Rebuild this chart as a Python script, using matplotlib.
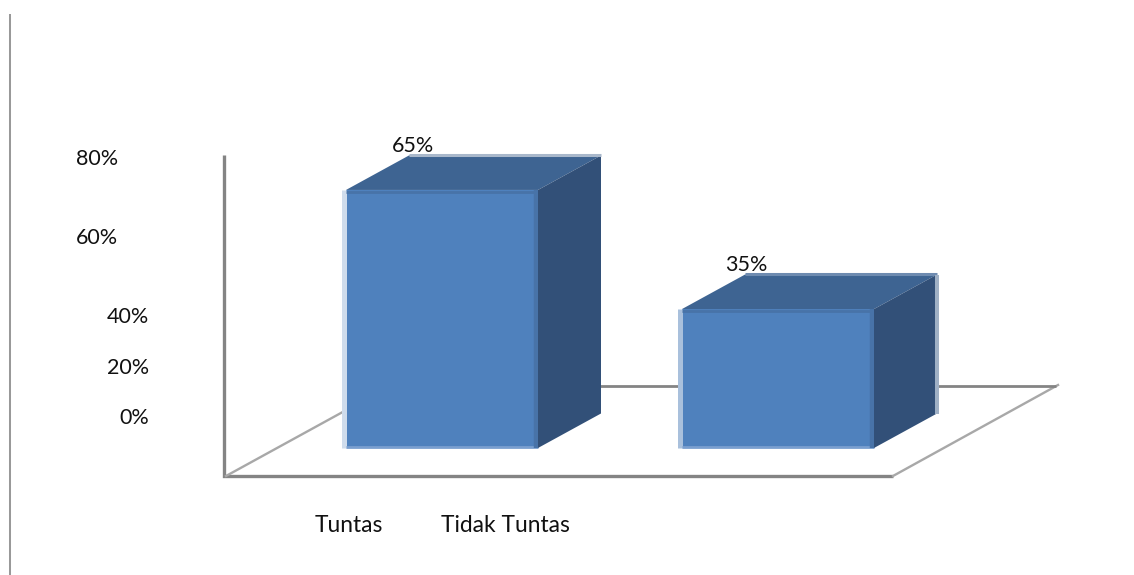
import matplotlib
matplotlib.use("Agg")
import matplotlib.pyplot as plt
from matplotlib.patches import Polygon

categories = ["Tuntas", "Tidak Tuntas"]
values = [65, 35]
value_labels = ["65%", "35%"]
tick_values = [80, 60, 40, 20, 0]
tick_labels = ["80%", "60%", "40%", "20%", "0%"]

plt.rcParams['font.family'] = ['Lato', 'DejaVu Sans']
W, H = 1134, 575
fig = plt.figure(figsize=(W / 100, H / 100), dpi=100)
ax = fig.add_axes([0, 0, 1, 1])

# data scale: x = category index, y = percent
X0, XS, Y0, YS = 442.0, 336.0, 448.0, 3.97
def dx(p): return (p - X0) / XS
def dy(p): return (Y0 - p) / YS
ax.set_xlim(dx(0), dx(W))
ax.set_ylim(dy(H), dy(0))
ax.axis("off")

HALF = 96 / XS
DX, DY = 63 / XS, 34.5 / YS
FRONT, TOP, SIDE = "#4F81BD", "#3E6492", "#325078"
GREY = "#848484"
TEXT = "#111111"
top_strip = ["#A9B8CB", "#6E8BB0"]
label_dx = [-29, -32]

# page rule
ax.plot([dx(10)] * 2, [dy(14), dy(575)], color="#999999", lw=1.45, solid_capstyle="butt", zorder=1)

# floor and wall
ax.plot([dx(224), dx(224), dx(893)], [dy(155), dy(476), dy(476)], color=GREY, lw=2.4,
        solid_joinstyle="miter", solid_capstyle="butt", zorder=1)
ax.plot([dx(226), dx(350)], [dy(476), dy(408)], color="#a8a8a8", lw=1.7, zorder=1)
ax.plot([dx(893), dx(1058)], [dy(476), dy(385)], color="#a8a8a8", lw=1.7, zorder=1)
ax.plot([dx(590), dx(1056)], [dy(385.5)] * 2, color=GREY, lw=2.0, solid_capstyle="butt", zorder=1)

for i, v in enumerate(values):
    l, r = i - HALF, i + HALF
    # front
    ax.add_patch(Polygon([(l, 0), (r, 0), (r, v), (l, v)], closed=True, fc=FRONT, ec="none", zorder=3))
    # top
    ax.add_patch(Polygon([(l, v), (r, v), (r + DX, v + DY), (l + DX, v + DY)], closed=True, fc=TOP, ec="none", zorder=4))
    # side
    ax.add_patch(Polygon([(r, 0), (r + DX, DY), (r + DX, v + DY), (r, v)], closed=True, fc=SIDE, ec="none", zorder=4))
    # soft edges
    ax.plot([l - 2.5 / XS] * 2, [0, v], color="#CFDCEC" if i == 0 else "#A9C0DC", lw=3.6, solid_capstyle="butt", zorder=3)
    ax.plot([l, r], [0.2, 0.2], color="#7A9FCF", lw=2.0, solid_capstyle="butt", zorder=3)
    ax.plot([r - 2.5 / XS] * 2, [0, v], color="#4873A8", lw=3.2, solid_capstyle="butt", zorder=3)
    ax.plot([l, r], [v - 0.4, v - 0.4], color="#4873A8", lw=2.0, solid_capstyle="butt", zorder=3)
    ax.plot([l + DX, r + DX], [v + DY + 0.1] * 2, color=top_strip[i], lw=2.2, solid_capstyle="butt", zorder=5)
    if i == 1:
        ax.plot([r + DX] * 2, [DY, v + DY], color="#9FB0C5", lw=2.9, solid_capstyle="butt", zorder=5)
    ax.text(i + label_dx[i] / XS, v + DY + 2.4, value_labels[i],
            ha="center", va="center", fontsize=15.5, color=TEXT, zorder=6)

# category labels
cat_px = [349, 505]
for c, p in zip(categories, cat_px):
    ax.text(dx(p), dy(526), c, ha="center", va="center", fontsize=16.4, color=TEXT)

# value axis labels, at the places where the reference shows them
lab_y = [159, 238.5, 317.5, 367.5, 417.5]
lab_x = [118, 118, 149, 149, 149]
for t, px, py in zip(tick_labels, lab_x, lab_y):
    ax.text(dx(px), dy(py), t, ha="right", va="center", fontsize=15.5, color=TEXT)

fig.savefig("out.png", dpi=100)
